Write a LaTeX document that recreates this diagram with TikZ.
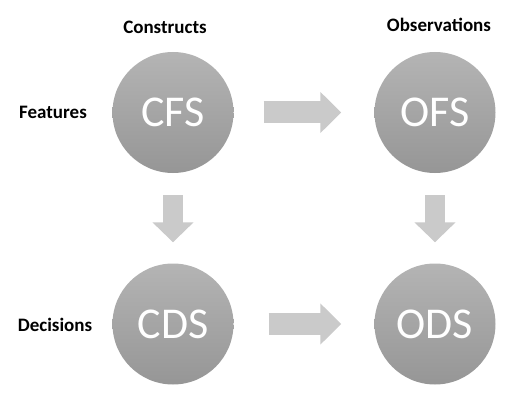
\documentclass[tikz,border=0pt]{standalone}
\usepackage{fontspec}
\setmainfont{Carlito}
\usetikzlibrary{arrows.meta}
\definecolor{circtop}{RGB}{180,180,180}
\definecolor{circbot}{RGB}{150,150,150}
\definecolor{arrowgray}{RGB}{202,202,202}

\begin{document}
\begin{tikzpicture}[x=1pt, y=1pt, every node/.style={font=\fontsize{19}{22}\selectfont\bfseries}]
    \useasboundingbox (0,0) rectangle (523,400);

    % === Circles ===
    \node[circle,minimum size=121pt,inner sep=0pt,top color=circtop,bottom color=circbot,text=white,font=\fontsize{44}{48}\selectfont] (cfs) at (173,287.5) {CFS};
    \node[circle,minimum size=121pt,inner sep=0pt,top color=circtop,bottom color=circbot,text=white,font=\fontsize{44}{48}\selectfont] (ofs) at (435,287.5) {OFS};
    \node[circle,minimum size=121pt,inner sep=0pt,top color=circtop,bottom color=circbot,text=white,font=\fontsize{44}{48}\selectfont] (cds) at (173,76) {CDS};
    \node[circle,minimum size=121pt,inner sep=0pt,top color=circtop,bottom color=circbot,text=white,font=\fontsize{44}{48}\selectfont] (ods) at (435,76) {ODS};

    % === Headings ===
    \node (constructs) at (165,373) {Constructs};
    \node (observations) at (439,375) {Observations};
    \node (features) at (53,288) {Features};
    \node (decisions) at (55,75) {Decisions};

    % === Block arrows ===
    \draw[arrowgray,line width=22pt,-{Triangle[length=21pt,width=40pt]},shorten <=30pt,shorten >=33pt] (cfs) -- (ofs);
    \draw[arrowgray,line width=22pt,-{Triangle[length=21pt,width=40pt]},shorten <=35pt,shorten >=33pt] (cds) -- (ods);
    \draw[arrowgray,line width=20pt,-{Triangle[length=20pt,width=40pt]},shorten <=22pt,shorten >=21pt] (cfs) -- (cds);
    \draw[arrowgray,line width=20pt,-{Triangle[length=20pt,width=40pt]},shorten <=22pt,shorten >=21pt] (ofs) -- (ods);
\end{tikzpicture}
\end{document}
